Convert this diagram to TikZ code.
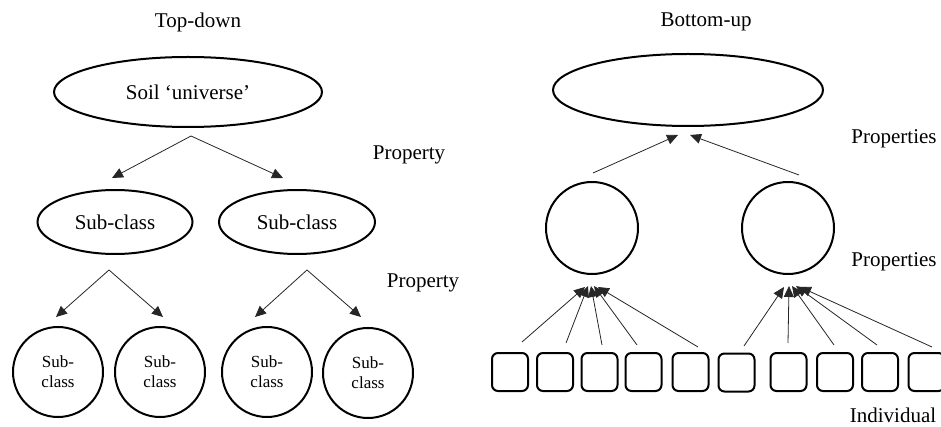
\documentclass[tikz,border=0pt]{standalone}
\usepackage{fontspec}
\setmainfont{Liberation Serif}
\usetikzlibrary{shapes.geometric,arrows.meta}
\tikzset{
  lbl/.style={font=\fontsize{21}{25}\selectfont, inner sep=0pt},
  ell/.style={draw, line width=2pt, ellipse, inner sep=0pt},
  circ/.style={draw, line width=2pt, circle, inner sep=0pt, align=center, font=\fontsize{17}{20}\selectfont},
  indiv/.style={draw, line width=2pt, rounded corners=6pt, minimum width=36pt, minimum height=38pt, inner sep=0pt},
  arr/.style={-{Triangle[length=11pt,width=10pt]}, line width=0.8pt, draw=black!85},
}
\begin{document}
\begin{tikzpicture}[x=1pt,y=-1pt]
\useasboundingbox (0,0) rectangle (941,427);
% ---------- Top-down ----------
\node[lbl] (tdtitle) at (198,22) {Top-down};
\node[ell, minimum width=268pt, minimum height=70pt, font=\fontsize{21}{25}\selectfont] (soil) at (188,92) {Soil `universe'};
\node[lbl] (prop1) at (409,155) {Property};
\node[ell, minimum width=155pt, minimum height=64pt, font=\fontsize{21}{25}\selectfont] (sc1) at (115,222) {Sub-class};
\node[ell, minimum width=156pt, minimum height=64pt, font=\fontsize{21}{25}\selectfont] (sc2) at (297,222) {Sub-class};
\node[lbl] (prop2) at (423,283) {Property};
\node[circ, minimum size=90pt] (c1) at (58,372) {Sub-\\class};
\node[circ, minimum size=90pt] (c2) at (160,372) {Sub-\\class};
\node[circ, minimum size=90pt] (c3) at (267,372) {Sub-\\class};
\node[circ, minimum size=90pt] (c4) at (368,373) {Sub-\\class};

\coordinate (t0) at (191,136);
\coordinate (t1) at (112,178);
\coordinate (t2) at (283,178);
\draw[arr] (t0) -- (t1);
\draw[arr] (t0) -- (t2);
\coordinate (s1) at (109,270);
\coordinate (s1a) at (56,317);
\coordinate (s1b) at (163,317);
\draw[arr] (s1) -- (s1a);
\draw[arr] (s1) -- (s1b);
\coordinate (s2) at (307,270);
\coordinate (s2a) at (255,317);
\coordinate (s2b) at (361,317);
\draw[arr] (s2) -- (s2a);
\draw[arr] (s2) -- (s2b);

% ---------- Bottom-up ----------
\node[lbl] (butitle) at (706,22) {Bottom-up};
\node[ell, minimum width=270pt, minimum height=72pt] (top) at (688,90) {};
\node[lbl] (props1) at (894,139) {Properties};
\node[circ, minimum size=92pt] (lc) at (592,228) {};
\node[circ, minimum size=92pt] (rc) at (788,228) {};
\node[lbl] (props2) at (894,262) {Properties};
\node[lbl] (indl) at (893,415) {Individual};

\coordinate (ua) at (593,173);
\coordinate (ub) at (799,175);
\coordinate (uat) at (678,135);
\coordinate (ubt) at (690,135);
\draw[arr] (ua) -- (uat);
\draw[arr] (ub) -- (ubt);

% boxes
\node[indiv] (b1) at (510,372) {};
\node[indiv] (b2) at (555,372) {};
\node[indiv] (b3) at (599.5,372) {};
\node[indiv] (b4) at (643.5,372) {};
\node[indiv] (b5) at (690.5,372) {};
\node[indiv] (b6) at (736.5,372.5) {};
\node[indiv] (b7) at (788.5,372) {};
\node[indiv] (b8) at (835,372) {};
\node[indiv] (b9) at (880,372) {};
\node[indiv] (b10) at (926.5,372) {};

% left converging arrows
\coordinate (l1) at (522,342);
\coordinate (l2) at (566,343);
\coordinate (l3) at (602,345);
\coordinate (l4) at (637,345);
\coordinate (l5) at (698,347);
\coordinate (lt1) at (585,287);
\coordinate (lt2) at (588,286);
\coordinate (lt3) at (591,286);
\coordinate (lt4) at (594,286);
\coordinate (lt5) at (598,287);
\draw[arr] (l1) -- (lt1);
\draw[arr] (l2) -- (lt2);
\draw[arr] (l3) -- (lt3);
\draw[arr] (l4) -- (lt4);
\draw[arr] (l5) -- (lt5);
% right converging arrows
\coordinate (r1) at (744,346);
\coordinate (r2) at (788,343);
\coordinate (r3) at (834,345);
\coordinate (r4) at (877,345);
\coordinate (r5) at (932,347);
\coordinate (rt1) at (784,287);
\coordinate (rt2) at (789,286);
\coordinate (rt3) at (792,286);
\coordinate (rt4) at (796,286);
\coordinate (rt5) at (800,287);
\draw[arr] (r1) -- (rt1);
\draw[arr] (r2) -- (rt2);
\draw[arr] (r3) -- (rt3);
\draw[arr] (r4) -- (rt4);
\draw[arr] (r5) -- (rt5);
\end{tikzpicture}
\end{document}
